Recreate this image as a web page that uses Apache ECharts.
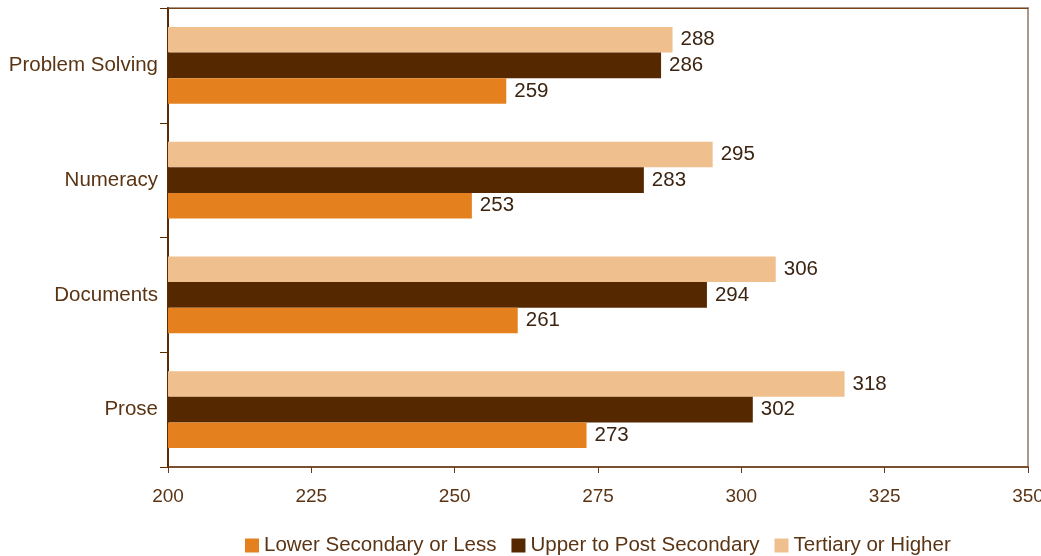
<!DOCTYPE html>
<html>
<head>
<meta charset="utf-8">
<style>
  html, body { margin: 0; padding: 0; background: #ffffff; }
  #chart { width: 1041px; height: 556px; }
</style>
<script src="https://cdn.jsdelivr.net/npm/echarts@6/dist/echarts.min.js"></script>
</head>
<body>
<div id="chart"></div>
<script>
// Literacy scores by domain and level of education
const categories = ['Prose', 'Documents', 'Numeracy', 'Problem Solving'];
const lowerSecondary = [273, 261, 253, 259];
const upperPostSecondary = [302, 294, 283, 286];
const tertiary = [318, 306, 295, 288];
const xTicks = { min: 200, max: 350, interval: 25 };

const textColor = '#5b3414';
const labelColor = '#3c2412';
const font = 'Liberation Sans, Arial, sans-serif';

function barSeries(name, data, color) {
  return {
    name: name,
    type: 'bar',
    data: data,
    barGap: '0%',
    barCategoryGap: '33%',
    itemStyle: { color: color },
    label: {
      show: true,
      position: 'right',
      distance: 8,
      color: labelColor,
      fontSize: 20.5,
      fontFamily: font
    }
  };
}

const chart = echarts.init(document.getElementById('chart'), null, { renderer: 'canvas' });
chart.setOption({
  animation: false,
  backgroundColor: '#ffffff',
  grid: {
    left: 168, right: 13, top: 8, bottom: 89,
    outerBoundsMode: 'none',
    containLabel: false,
    show: true,
    borderColor: '#ad978a',
    borderWidth: 2,
    backgroundColor: 'transparent'
  },
  legend: {
    top: 530,
    left: 240,
    itemWidth: 14,
    itemHeight: 14,
    itemGap: 15,
    icon: 'rect',
    data: ['Lower Secondary or Less', 'Upper to Post Secondary', 'Tertiary or Higher'],
    textStyle: { color: textColor, fontSize: 20.5, fontFamily: font }
  },
  xAxis: [{
    type: 'value',
    min: xTicks.min,
    max: xTicks.max,
    interval: xTicks.interval,
    axisLine: { show: true, lineStyle: { color: '#6b3a12', width: 1.5 } },
    axisTick: { show: true, length: 6, lineStyle: { color: '#6b3a12' } },
    splitLine: { show: false },
    axisLabel: { color: textColor, fontSize: 19, fontFamily: font, margin: 20 }
  }, {
    // top frame edge
    type: 'value',
    position: 'top',
    min: xTicks.min,
    max: xTicks.max,
    interval: xTicks.interval,
    axisLine: { show: true, onZero: false, lineStyle: { color: '#7a4418', width: 1 } },
    axisTick: { show: false },
    axisLabel: { show: false },
    splitLine: { show: false }
  }],
  yAxis: {
    type: 'category',
    data: categories,
    axisLine: { show: true, lineStyle: { color: '#5a2a00', width: 2 } },
    axisTick: { show: true, length: 8, lineStyle: { color: '#5a2a00' } },
    axisLabel: { color: textColor, fontSize: 20.5, fontFamily: font, margin: 10 }
  },
  series: [
    barSeries('Tertiary or Higher', tertiary, '#f0bf8e'),
    barSeries('Upper to Post Secondary', upperPostSecondary, '#562800'),
    barSeries('Lower Secondary or Less', lowerSecondary, '#e5801f')
  ]
});
</script>
</body>
</html>
